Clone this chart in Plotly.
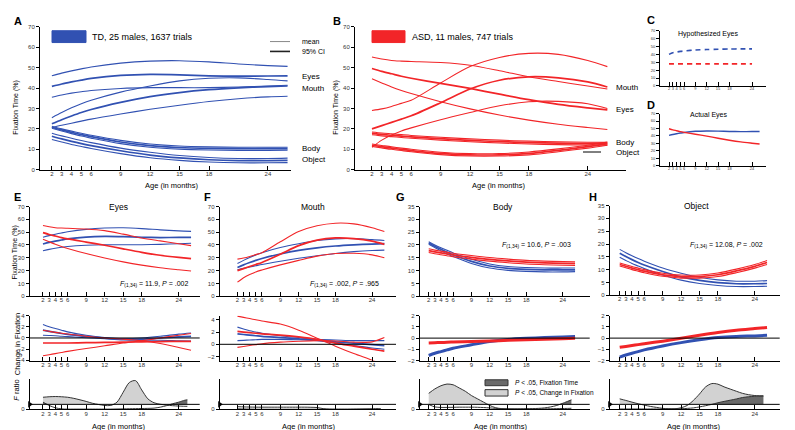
import plotly.graph_objects as go

W, H = 795, 430
FONT = 'Liberation Sans, Arial, sans-serif'
BLUE = '#3151b2'
RED = '#f22528'
LIGHT = '#d2d2d2'
DARK = '#6a6a6a'

AGES = [2, 3, 4, 5, 6, 9, 12, 15, 18, 21, 24, 26]
TICK_AGES = [2, 3, 4, 5, 6, 9, 12, 15, 18, 24]
F_AGES = [2, 3, 4, 5, 6, 7, 8, 9, 10, 11, 12, 13, 14, 15, 16, 17, 18, 19, 20, 21, 22, 23, 24, 25, 25.4]
F_CRIT = 4.1

# TD fixation time (%)
td_eyes_hi = [46.0, 47.3, 48.4, 49.4, 50.3, 52.2, 53.2, 53.4, 52.8, 51.8, 51.0, 50.6]
td_eyes_mean = [40.8, 42.0, 43.0, 43.9, 44.7, 46.2, 46.7, 46.5, 46.0, 45.8, 45.9, 46.0]
td_eyes_lo = [35.5, 36.6, 37.5, 38.2, 38.8, 39.8, 40.2, 40.2, 40.2, 40.5, 41.0, 41.4]
td_mouth_hi = [25.5, 28.0, 30.3, 32.3, 34.0, 38.0, 41.0, 43.5, 44.8, 45.0, 44.2, 43.5]
td_mouth_mean = [22.5, 24.5, 26.3, 28.0, 29.5, 33.0, 35.8, 37.8, 39.2, 40.1, 40.7, 41.0]
td_mouth_lo = [20.7, 21.8, 22.8, 23.8, 24.8, 27.3, 29.6, 31.6, 33.4, 34.8, 35.7, 36.0]
td_body_hi = [21.3, 20.0, 18.9, 17.9, 16.9, 14.4, 12.6, 11.6, 11.2, 11.0, 11.0, 11.0]
td_body_mean = [20.8, 19.5, 18.3, 17.2, 16.2, 13.6, 11.8, 10.9, 10.5, 10.3, 10.3, 10.3]
td_body_lo = [20.3, 19.0, 17.7, 16.5, 15.5, 12.8, 11.0, 10.1, 9.7, 9.5, 9.5, 9.6]
td_obj_hi = [17.9, 16.6, 15.4, 14.3, 13.3, 10.6, 8.6, 7.0, 6.0, 5.5, 5.5, 5.7]
td_obj_mean = [16.4, 15.1, 13.9, 12.8, 11.8, 9.3, 7.2, 5.8, 4.9, 4.5, 4.5, 4.6]
td_obj_lo = [14.8, 13.6, 12.4, 11.4, 10.4, 7.9, 5.9, 4.6, 3.8, 3.4, 3.4, 3.5]

# ASD fixation time (%)
asd_eyes_hi = [55.2, 54.2, 53.5, 53.2, 53.0, 52.5, 51.2, 48.5, 45.5, 43.2, 41.0, 39.5]
asd_eyes_mean = [49.6, 48.2, 47.0, 45.8, 44.8, 42.3, 39.8, 37.0, 34.3, 32.0, 30.3, 29.3]
asd_eyes_lo = [44.5, 42.5, 40.5, 38.8, 37.3, 33.3, 29.8, 26.8, 24.3, 22.3, 20.7, 19.7]
asd_mouth_hi = [29.0, 29.8, 31.0, 32.5, 34.0, 42.5, 50.5, 55.0, 57.0, 56.5, 53.5, 50.5]
asd_mouth_mean = [20.0, 21.6, 23.2, 24.8, 26.4, 32.8, 39.5, 43.8, 45.5, 45.0, 43.0, 40.5]
asd_mouth_lo = [11.0, 14.5, 17.0, 19.0, 20.5, 24.5, 28.0, 31.3, 33.3, 33.5, 32.3, 30.0]
asd_body_hi = [18.5, 18.0, 17.6, 17.2, 16.8, 15.9, 15.1, 14.5, 14.0, 13.7, 13.5, 13.4]
asd_body_mean = [17.8, 17.3, 16.9, 16.5, 16.1, 15.2, 14.4, 13.8, 13.3, 13.0, 12.8, 12.7]
asd_body_lo = [17.1, 16.6, 16.2, 15.8, 15.4, 14.5, 13.7, 13.1, 12.6, 12.3, 12.1, 12.0]
asd_obj_hi = [12.6, 11.9, 11.2, 10.6, 10.0, 8.6, 7.9, 7.9, 8.7, 10.2, 12.0, 13.6]
asd_obj_mean = [12.0, 11.3, 10.6, 10.0, 9.4, 8.0, 7.3, 7.3, 8.0, 9.5, 11.3, 12.8]
asd_obj_lo = [11.4, 10.7, 10.0, 9.4, 8.8, 7.4, 6.7, 6.7, 7.3, 8.8, 10.6, 12.0]

# hypothesized eyes (panel C)
HYP_AGES = [2, 3, 4, 5, 6, 9, 12, 15, 18, 21, 24]
hyp_td = [40.0, 42.0, 43.0, 43.8, 44.4, 45.5, 46.1, 46.5, 46.8, 47.0, 47.0]
hyp_asd = [28.0, 28.0, 28.0, 28.0, 28.0, 28.0, 28.0, 28.0, 28.0, 28.0, 28.0]

# change in fixation (% per month)
td_eyes_d_hi = [2.4, 2.0, 1.7, 1.4, 1.1, 0.5, 0.1, -0.1, 0.0, 0.3, 0.7, 0.9]
td_eyes_d_mean = [1.4, 1.2, 1.0, 0.8, 0.65, 0.3, 0.0, -0.2, -0.2, 0.0, 0.2, 0.3]
td_eyes_d_lo = [0.5, 0.45, 0.4, 0.3, 0.25, 0.05, -0.15, -0.35, -0.4, -0.4, -0.5, -0.55]
asd_eyes_d_hi = [1.4, 1.2, 1.0, 0.85, 0.7, 0.3, 0.0, -0.2, -0.5, -1.0, -1.7, -2.2]
asd_eyes_d_mean = [-0.9, -0.9, -0.9, -0.9, -0.9, -0.85, -0.8, -0.75, -0.7, -0.65, -0.6, -0.6]
asd_eyes_d_lo = [-3.2, -3.0, -2.8, -2.6, -2.4, -1.9, -1.4, -0.9, -0.5, 0.0, 0.5, 0.8]
td_mouth_d_hi = [2.8, 2.5, 2.2, 2.0, 1.8, 1.4, 1.1, 0.8, 0.7, 0.6, 0.6, 0.6]
td_mouth_d_mean = [1.7, 1.6, 1.5, 1.4, 1.3, 1.1, 0.9, 0.7, 0.4, 0.2, -0.05, -0.2]
td_mouth_d_lo = [0.6, 0.65, 0.7, 0.75, 0.8, 0.8, 0.75, 0.6, 0.2, -0.2, -0.6, -0.8]
asd_mouth_d_hi = [4.6, 4.4, 4.2, 4.0, 3.8, 3.3, 2.3, 1.0, -0.3, -1.5, -2.6, -3.4]
asd_mouth_d_mean = [2.1, 2.0, 1.9, 1.8, 1.7, 1.5, 1.2, 0.8, 0.2, -0.3, -0.8, -1.1]
asd_mouth_d_lo = [-0.5, -0.35, -0.2, -0.05, 0.1, 0.35, 0.5, 0.6, 0.55, 0.35, 0.4, 1.1]
td_body_d = [-1.55, -1.35, -1.2, -1.05, -0.9, -0.6, -0.3, -0.12, -0.02, 0.05, 0.1, 0.15]
asd_body_d = [-0.43, -0.41, -0.39, -0.37, -0.35, -0.3, -0.25, -0.2, -0.15, -0.1, -0.05, -0.02]
td_obj_d = [-1.7, -1.5, -1.35, -1.2, -1.05, -0.7, -0.4, -0.15, 0.05, 0.15, 0.2, 0.25]
asd_obj_d = [-0.82, -0.74, -0.66, -0.58, -0.5, -0.27, -0.02, 0.25, 0.5, 0.7, 0.85, 0.95]

# F ratios: change in fixation (light) and fixation time (dark)
e_change = [9.9, 10.3, 10.5, 10.3, 9.9, 9.0, 7.8, 6.5, 5.0, 4.0, 3.2, 3.2, 5.9, 14.0, 22.0, 23.5, 15.9, 8.6, 5.4, 4.2, 3.5, 3.0, 2.7, 2.5, 2.5]
e_fix = [5.9, 3.2, 1.3, 0.4, 0.2, 0.2, 0.2, 0.2, 0.2, 0.2, 0.2, 0.2, 0.3, 0.4, 0.5, 0.6, 0.7, 0.8, 1.0, 1.8, 3.0, 4.6, 5.9, 7.5, 7.8]
f_change = [2.2, 2.0, 1.9, 1.8, 1.8, 1.8, 1.8, 1.8, 1.8, 1.8, 1.8, 1.8, 1.7, 1.5, 0.6, 0.2, 0.1, 0.1, 0.1, 0.2, 0.3, 0.4, 0.5, 0.6, 0.6]
f_fix = [0.4, 0.3, 0.2, 0.1, 0.1, 0.1, 0.1, 0.1, 0.1, 0.1, 0.1, 0.1, 0.1, 0.1, 0.1, 0.1, 0.1, 0.1, 0.1, 0.1, 0.1, 0.1, 0.1, 0.1, 0.1]
g_change = [13.1, 16.7, 19.3, 20.7, 20.1, 17.5, 14.8, 11.3, 8.6, 5.9, 3.2, 1.3, 0.6, 0.4, 0.3, 0.3, 0.3, 0.3, 0.3, 0.4, 0.5, 0.6, 0.7, 0.8, 0.9]
g_fix = [4.0, 2.0, 1.6, 1.6, 1.7, 1.8, 1.8, 1.8, 1.7, 1.5, 1.2, 0.8, 0.5, 0.4, 0.4, 0.4, 0.5, 0.6, 0.8, 1.2, 2.0, 3.2, 5.0, 7.0, 7.8]
h_change = [8.6, 7.3, 5.9, 4.6, 3.5, 2.4, 1.6, 0.8, 0.5, 0.5, 1.3, 3.2, 7.3, 12.6, 18.4, 21.1, 20.6, 18.4, 16.6, 14.8, 13.1, 12.0, 11.3, 11.0, 11.0]
h_fix = [0.3, 0.3, 0.3, 0.3, 0.3, 0.3, 0.3, 0.3, 0.4, 0.4, 0.5, 0.8, 1.2, 2.0, 3.0, 4.1, 5.4, 6.5, 7.5, 8.5, 9.7, 10.3, 10.7, 11.0, 11.0]

fig = go.Figure()
layout = {}
shapes = []
annotations = []


def sfx(n):
    return '' if n == 1 else str(n)


def add_axes(n, xpx, ypx, xrange, yrange, yticks, tick_size=6):
    s = sfx(n)
    layout['xaxis' + s] = dict(
        domain=[xpx[0] / W, xpx[1] / W], range=xrange, anchor='y' + s,
        tickvals=TICK_AGES, ticks='inside', ticklen=4, tickwidth=1, tickcolor='black',
        ticklabelstandoff=-2, tickangle=0,
        showline=True, linecolor='black', linewidth=1, showgrid=False, zeroline=False,
        tickfont=dict(size=tick_size, color='#333333', family=FONT),
    )
    layout['yaxis' + s] = dict(
        domain=[1 - ypx[1] / H, 1 - ypx[0] / H], range=yrange, anchor='x' + s,
        tickvals=yticks, ticks='outside', ticklen=3, tickwidth=1, tickcolor='black',
        showline=True, linecolor='black', linewidth=1, showgrid=False, zeroline=False,
        tickfont=dict(size=tick_size, color='#333333', family=FONT),
    )


def line(n, x, y, color, width, dash=None):
    s = sfx(n)
    fig.add_trace(go.Scatter(
        x=x, y=y, xaxis='x' + s, yaxis='y' + s, mode='lines',
        line=dict(color=color, width=width, shape='spline', smoothing=0.8, dash=dash),
        showlegend=False, hoverinfo='skip',
    ))


def band(n, hi, mean, lo, color):
    line(n, AGES, hi, color, 1.1)
    line(n, AGES, lo, color, 1.1)
    line(n, AGES, mean, color, 1.7)


def text(x, y, s, size=8, xanchor='center', angle=0, color='black'):
    annotations.append(dict(
        x=x / W, y=1 - y / H, xref='paper', yref='paper', text=s, showarrow=False,
        xanchor=xanchor, yanchor='middle', textangle=angle,
        font=dict(size=size, color=color, family=FONT),
    ))


def hline(n, yval, width=1):
    s = sfx(n)
    shapes.append(dict(type='line', xref='x%s domain' % s, yref='y' + s,
                       x0=0, x1=1, y0=yval, y1=yval, line=dict(color='black', width=width)))


def f_ratio(n, change, fix, xstart, filled=True):
    s = sfx(n)
    if filled:
        for vals, color in ((change, LIGHT), (fix, DARK)):
            fig.add_trace(go.Scatter(
                x=F_AGES, y=[F_CRIT] * len(F_AGES), xaxis='x' + s, yaxis='y' + s, mode='lines',
                line=dict(width=0, color=color), showlegend=False, hoverinfo='skip'))
            fig.add_trace(go.Scatter(
                x=F_AGES, y=[max(v, F_CRIT) for v in vals], xaxis='x' + s, yaxis='y' + s,
                mode='lines', fill='tonexty', fillcolor=color,
                line=dict(width=0, shape='spline', color=color), showlegend=False, hoverinfo='skip'))
    for vals in (change, fix):
        line(n, F_AGES, vals, '#333333', 1)
    hline(n, F_CRIT)
    fig.add_trace(go.Scatter(
        x=[xstart], y=[F_CRIT], xaxis='x' + s, yaxis='y' + s, mode='markers',
        marker=dict(symbol='triangle-right', size=6, color='black'),
        cliponaxis=False, showlegend=False, hoverinfo='skip'))


FIX70 = [0, 10, 20, 30, 40, 50, 60, 70]
FIX35 = [0, 5, 10, 15, 20, 25, 30, 35]
TOP, MID, BOT = (198.3, 289.3), (309, 354.5), (373, 404)

add_axes(1, (32, 283), (16, 161), [0.79, 26.35], [0, 70], FIX70)
add_axes(2, (347, 618), (16, 161), [0.27, 27.9], [0, 70], FIX70)
add_axes(3, (652, 758), (20, 76), [-0.39, 27.7], [0, 70], FIX70, tick_size=4)
add_axes(4, (652, 758), (104, 157), [-0.39, 27.7], [0, 70], FIX70, tick_size=4)

cols = [(5, (21.7, 191.7), [-0.15, 27.4]), (8, (211.7, 388), [-0.9, 27.9]),
        (11, (411.7, 581.7), [0.52, 28.4]), (14, (601.7, 771.7), [0.37, 28.06])]
add_axes(5, cols[0][1], TOP, cols[0][2], [0, 70], FIX70)
add_axes(6, cols[0][1], MID, cols[0][2], [-4.05, 4.0], [-4, -2, 0, 2, 4])
add_axes(7, cols[0][1], BOT, cols[0][2], [0, 25], [0])
add_axes(8, cols[1][1], TOP, cols[1][2], [0, 70], FIX70)
add_axes(9, cols[1][1], MID, cols[1][2], [-2.65, 4.67], [-2, 0, 2, 4])
add_axes(10, cols[1][1], BOT, cols[1][2], [0, 25], [0])
add_axes(11, cols[2][1], TOP, cols[2][2], [0, 35], FIX35)
add_axes(12, cols[2][1], MID, cols[2][2], [-2, 2], [-2, -1, 0, 1, 2])
add_axes(13, cols[2][1], BOT, cols[2][2], [0, 25], [0])
add_axes(14, cols[3][1], (197.3, 288.3), cols[3][2], [0, 35], FIX35)
add_axes(15, cols[3][1], MID, cols[3][2], [-2, 2], [-2, -1, 0, 1, 2])
add_axes(16, cols[3][1], BOT, cols[3][2], [0, 25], [0])

# A: TD
band(1, td_eyes_hi, td_eyes_mean, td_eyes_lo, BLUE)
band(1, td_mouth_hi, td_mouth_mean, td_mouth_lo, BLUE)
band(1, td_body_hi, td_body_mean, td_body_lo, BLUE)
band(1, td_obj_hi, td_obj_mean, td_obj_lo, BLUE)
# B: ASD
band(2, asd_eyes_hi, asd_eyes_mean, asd_eyes_lo, RED)
band(2, asd_mouth_hi, asd_mouth_mean, asd_mouth_lo, RED)
band(2, asd_body_hi, asd_body_mean, asd_body_lo, RED)
band(2, asd_obj_hi, asd_obj_mean, asd_obj_lo, RED)
# C / D
line(3, HYP_AGES, hyp_td, BLUE, 1.6, dash='5px,4px')
line(3, HYP_AGES, hyp_asd, RED, 1.6, dash='5px,4px')
line(4, AGES, td_eyes_mean, BLUE, 1.4)
line(4, AGES, asd_eyes_mean, RED, 1.4)
# E: eyes
band(5, td_eyes_hi, td_eyes_mean, td_eyes_lo, BLUE)
band(5, asd_eyes_hi, asd_eyes_mean, asd_eyes_lo, RED)
hline(6, 0)
band(6, td_eyes_d_hi, td_eyes_d_mean, td_eyes_d_lo, BLUE)
band(6, asd_eyes_d_hi, asd_eyes_d_mean, asd_eyes_d_lo, RED)
f_ratio(7, e_change, e_fix, cols[0][2][0])
# F: mouth
band(8, td_mouth_hi, td_mouth_mean, td_mouth_lo, BLUE)
band(8, asd_mouth_hi, asd_mouth_mean, asd_mouth_lo, RED)
hline(9, 0)
band(9, td_mouth_d_hi, td_mouth_d_mean, td_mouth_d_lo, BLUE)
band(9, asd_mouth_d_hi, asd_mouth_d_mean, asd_mouth_d_lo, RED)
f_ratio(10, f_change, f_fix, cols[1][2][0], filled=False)
# G: body
band(11, td_body_hi, td_body_mean, td_body_lo, BLUE)
band(11, asd_body_hi, asd_body_mean, asd_body_lo, RED)
hline(12, 0)
line(12, AGES, td_body_d, BLUE, 3)
line(12, AGES, asd_body_d, RED, 3)
f_ratio(13, g_change, g_fix, cols[2][2][0])
# H: object
band(14, td_obj_hi, td_obj_mean, td_obj_lo, BLUE)
band(14, asd_obj_hi, asd_obj_mean, asd_obj_lo, RED)
hline(15, 0)
line(15, AGES, td_obj_d, BLUE, 3)
line(15, AGES, asd_obj_d, RED, 3)
f_ratio(16, h_change, h_fix, cols[3][2][0])

# legends and decorations (paper pixels)
def rect(x0, y0, x1, y1, fill, border=None):
    shapes.append(dict(type='rect', xref='paper', yref='paper', x0=x0 / W, x1=x1 / W,
                       y0=1 - y1 / H, y1=1 - y0 / H, fillcolor=fill,
                       line=dict(color=border or fill, width=1)))


def seg(x0, x1, y, color, width):
    shapes.append(dict(type='line', xref='paper', yref='paper', x0=x0 / W, x1=x1 / W,
                       y0=1 - y / H, y1=1 - y / H, line=dict(color=color, width=width)))


rect(44, 20, 78, 32, BLUE)
text(82, 26, 'TD, 25 males, 1637 trials', size=9, xanchor='left')
rect(364, 20, 397, 32, RED)
text(402, 26, 'ASD, 11 males, 747 trials', size=9, xanchor='left')
seg(262, 282, 31, '#888888', 1)
seg(262, 282, 41, '#222222', 1.6)
text(292, 31, 'mean', size=7, xanchor='left')
text(292, 41, '95% CI', size=7, xanchor='left')
seg(575, 593, 143, 'black', 1)

rect(477, 374, 500, 380, DARK, '#333333')
rect(477, 384, 500, 390.5, LIGHT, '#333333')
text(505, 377, '<i>P</i> < .05, Fixation Time', size=6.5, xanchor='left')
text(505, 387.5, '<i>P</i> < .05, Change in Fixation', size=6.5, xanchor='left')

for lbl, y in (('Eyes', 66), ('Mouth', 79), ('Body', 139), ('Object', 151)):
    text(292, y, lbl, size=8, xanchor='left')
for lbl, y in (('Mouth', 78), ('Eyes', 100), ('Body', 133), ('Object', 143)):
    text(606, y, lbl, size=8, xanchor='left')

for lbl, x, y in (('A', 10, 10), ('B', 329, 10), ('C', 643, 9), ('D', 643, 95),
                  ('E', 9, 189), ('F', 199, 189), ('G', 392, 189), ('H', 585, 189)):
    text(x, y, '<b>%s</b>' % lbl, size=11)

text(700, 23, 'Hypothesized Eyes', size=7)
text(700, 105, 'Actual Eyes', size=7)
text(110, 199, 'Eyes', size=8.5)
text(305, 199, 'Mouth', size=8.5)
text(495, 199, 'Body', size=8.5)
text(688, 198, 'Object', size=8.5)

text(182, 277, '<i>F</i><sub>(1,34)</sub> = 11.9, <i>P</i> = .002', size=7, xanchor='right')
text(373, 277, '<i>F</i><sub>(1,34)</sub> = .002, <i>P</i> = .965', size=7, xanchor='right')
text(565, 237, '<i>F</i><sub>(1,34)</sub> = 10.6, <i>P</i> = .003', size=7, xanchor='right')
text(757, 237, '<i>F</i><sub>(1,34)</sub> = 12.08, <i>P</i> = .002', size=7, xanchor='right')

text(8, 98, 'Fixation Time (%)', size=7, angle=-90)
text(328, 98, 'Fixation Time (%)', size=7, angle=-90)
text(7, 245, 'Fixation Time (%)', size=7, angle=-90)
text(9, 338, 'Change in Fixation', size=7.5, angle=-90)
text(9, 385, '<i>F</i> ratio', size=7.5, angle=-90)

text(163, 177, 'Age (in months)', size=7.5)
text(490, 177, 'Age (in months)', size=7.5)
for x in (110, 300, 492, 685):
    text(x, 421, 'Age (in months)', size=7.5)

text(785, 417, '¶', size=14, color='#3b8fd9')

fig.update_layout(
    **layout,
    width=W, height=H,
    margin=dict(l=0, r=0, t=0, b=0),
    plot_bgcolor='white', paper_bgcolor='white',
    font=dict(family=FONT, color='black'),
    showlegend=False,
    shapes=shapes, annotations=annotations,
)

fig.write_html("out.html")
